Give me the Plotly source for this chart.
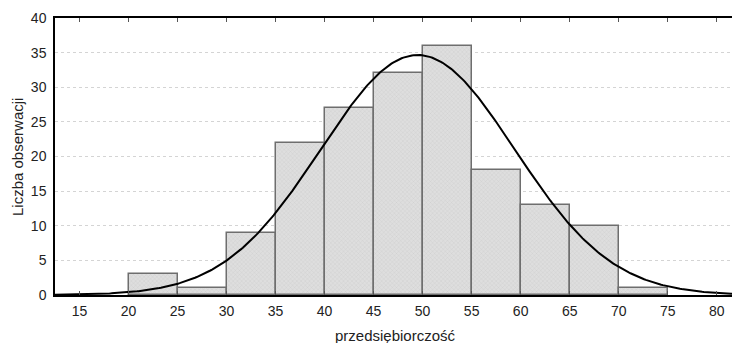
import numpy as np
import plotly.graph_objects as go

bin_left = [20, 25, 30, 35, 40, 45, 50, 55, 60, 65, 70]
bin_width = 5
counts = [3, 1, 9, 22, 27, 32, 36, 18, 13, 10, 1]
x_ticks = [15, 20, 25, 30, 35, 40, 45, 50, 55, 60, 65, 70, 75, 80]
y_ticks = [0, 5, 10, 15, 20, 25, 30, 35, 40]
fit_mean = 49.5
fit_sd = 9.9

n_total = sum(counts)
mids = [b + bin_width / 2 for b in bin_left]
xs = np.linspace(12.5, 82, 400)
ys = n_total * bin_width / (fit_sd * np.sqrt(2 * np.pi)) * np.exp(-0.5 * ((xs - fit_mean) / fit_sd) ** 2)

W, H = 732, 343
L, R, T, B = 55, 0, 18, 48
plot_h = H - T - B
plot_w = W - L - R

fig = go.Figure()
fig.add_trace(go.Bar(
    x=mids, y=counts, width=bin_width,
    marker=dict(color="#dcdcdc",
                line=dict(color="#6e6e6e", width=1.5),
                pattern=dict(shape="x", size=3, solidity=0.2, fgcolor="#b0b0b0", bgcolor="#dedede")),
    showlegend=False, hoverinfo="skip"))
fig.add_trace(go.Scatter(x=xs, y=ys, mode="lines", line=dict(color="black", width=2),
                         showlegend=False, hoverinfo="skip", cliponaxis=True))

fig.update_layout(
    width=W, height=H,
    margin=dict(l=L, r=R, t=T, b=B, autoexpand=False),
    plot_bgcolor="white", paper_bgcolor="white",
    font=dict(family="Liberation Sans, Arial, sans-serif", size=14, color="#222"),
    bargap=0,
    annotations=[
        dict(text="przedsiębiorczość", x=(395 - L) / plot_w, y=(H - B - 335) / plot_h,
             xref="paper", yref="paper", xanchor="center", yanchor="middle",
             showarrow=False, font=dict(size=15)),
        dict(text="Liczba obserwacji", x=(17 - L) / plot_w, y=(H - B - 157) / plot_h,
             xref="paper", yref="paper", xanchor="center", yanchor="middle",
             showarrow=False, font=dict(size=15), textangle=-90),
    ],
)

fig.update_xaxes(range=[12.5, 81.56], tickvals=x_ticks, ticks="inside", ticklen=4,
                 tickcolor="#555", showline=True, linecolor="black", linewidth=1.5,
                 mirror="ticks", showgrid=False, zeroline=False, automargin=False,
                 ticklabelstandoff=2)
fig.update_yaxes(range=[0, 40], tickvals=y_ticks, showline=True, linecolor="black", linewidth=1.5,
                 showgrid=True, gridcolor="#d4d4d4", griddash="dot", gridwidth=1,
                 zeroline=False, ticks="", ticklen=0, automargin=False, ticklabelstandoff=4)
fig.write_html("out.html", config={"displayModeBar": False},
               post_script="document.body.style.margin='0';document.body.style.overflow='hidden';")
